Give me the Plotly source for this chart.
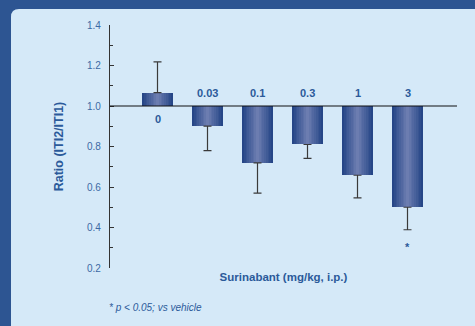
import plotly.graph_objects as go

# ---- data ----
doses = ["0", "0.03", "0.1", "0.3", "1", "3"]
ratio = [1.066, 0.901, 0.719, 0.810, 0.658, 0.500]
sem = [0.152, 0.121, 0.149, 0.069, 0.112, 0.111]
significant = [False, False, False, False, False, True]
y_ticks = [0.2, 0.4, 0.6, 0.8, 1.0, 1.2, 1.4]

BASE = 1.0
W, H = 475, 326
L, R, T, B = 110, 18, 25, 58
pw, ph = W - L - R, H - T - B

OUTER = "#2d5592"
PANEL = "#d5e9f8"
TXT = "#2b5a9a"
FONT = "Liberation Sans, Arial, sans-serif"

xs = list(range(len(doses)))
fig = go.Figure()

# simulated horizontal gradient on bars via overlaid narrower bars
edge = (38, 70, 135)
center = (108, 125, 176)
n = 9
bw = 0.62
for k in range(n):
    t = k / (n - 1)
    c = tuple(int(round(edge[i] + (center[i] - edge[i]) * t)) for i in range(3))
    fig.add_trace(go.Bar(
        x=xs, y=[v - BASE for v in ratio], base=BASE,
        width=bw * (1 - t * 0.92),
        marker=dict(color="rgb(%d,%d,%d)" % c, line=dict(width=0)),
        hoverinfo="skip", showlegend=False,
    ))

# error bars: one-sided away from baseline
up = [s if v >= BASE else 0 for v, s in zip(ratio, sem)]
down = [s if v < BASE else 0 for v, s in zip(ratio, sem)]
fig.add_trace(go.Scatter(
    x=xs, y=ratio, mode="markers", marker=dict(opacity=0, size=1),
    error_y=dict(type="data", symmetric=False, array=up, arrayminus=down,
                 color="#3a3a3a", thickness=1.2, width=4),
    showlegend=False, hoverinfo="skip",
))

# panel shape (rounded top-left corner), pixel -> paper conversions
def px(x):
    return (x - L) / pw

def py(y):
    return (H - B - y) / ph

r = 8
x0, y0, x1, y1 = 11, 9, W + 5, H + 5
path = (f"M {px(x0)},{py(y1)} L {px(x0)},{py(y0 + r)} "
        f"Q {px(x0)},{py(y0)} {px(x0 + r)},{py(y0)} "
        f"L {px(x1)},{py(y0)} L {px(x1)},{py(y1)} Z")

shapes = [
    dict(type="path", xref="paper", yref="paper", path=path,
         fillcolor=PANEL, line=dict(width=0), layer="below"),
    dict(type="line", xref="paper", yref="y", x0=0, x1=1, y0=BASE, y1=BASE,
         line=dict(color="#111111", width=1.2), layer="above"),
]

annotations = []
for i, (d, v) in enumerate(zip(doses, ratio)):
    annotations.append(dict(
        x=i, y=BASE, xref="x", yref="y", text="<b>%s</b>" % d, showarrow=False,
        yshift=(-13 if v >= BASE else 13),
        font=dict(family=FONT, size=11, color=TXT),
    ))
for i, (v, s, sig) in enumerate(zip(ratio, sem, significant)):
    if sig:
        annotations.append(dict(
            x=i, y=v - s, xref="x", yref="y", text="<b>*</b>", showarrow=False,
            yshift=-17, font=dict(family=FONT, size=11, color=TXT),
        ))
annotations.append(dict(
    x=px(107), y=py(307), xref="paper", yref="paper", xanchor="left", yanchor="middle",
    text="<i>* p &lt; 0.05; vs vehicle</i>", showarrow=False,
    font=dict(family=FONT, size=10, color=TXT),
))

fig.update_layout(
    width=W, height=H,
    margin=dict(l=L, r=R, t=T, b=B),
    paper_bgcolor=OUTER, plot_bgcolor="rgba(0,0,0,0)",
    barmode="overlay", bargap=0,
    shapes=shapes, annotations=annotations,
    font=dict(family=FONT, color=TXT),
    xaxis=dict(range=[-0.95, 5.99], showgrid=False, zeroline=False,
               showticklabels=False, ticks="", showline=False,
               title=dict(text="<b>Surinabant (mg/kg, i.p.)</b>", standoff=4,
                          font=dict(size=11.5, color=TXT, family=FONT))),
    yaxis=dict(range=[0.2, 1.4], tickvals=y_ticks, tickformat=".1f",
               showgrid=False, zeroline=False, showline=True,
               linecolor="#333333", linewidth=1.2,
               ticks="inside", ticklen=4, tickcolor="#333333", tickwidth=1.2,
               ticklabelstandoff=6,
               minor=dict(dtick=0.1, ticks="inside", ticklen=3, tickcolor="#333333"),
               tickfont=dict(size=10, color="#3c6aa5", family=FONT),
               title=dict(text="<b>Ratio (ITI2/ITI1)</b>", standoff=20,
                          font=dict(size=12.5, color=TXT, family=FONT))),
)

fig.write_html("out.html", config={"displayModeBar": False},
               post_script="document.body.style.margin='0';document.body.style.background='%s';" % OUTER)
